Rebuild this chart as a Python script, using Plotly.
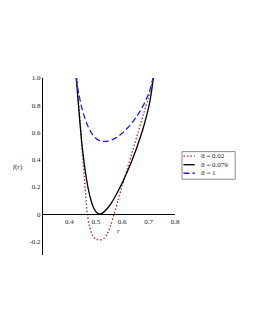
import plotly.graph_objects as go

# Data
r_black = [0.426, 0.433, 0.44, 0.447, 0.455, 0.463, 0.472, 0.482, 0.492, 0.503, 0.515, 0.53, 0.545, 0.56, 0.575, 0.59, 0.605, 0.62, 0.635, 0.65, 0.665, 0.68, 0.692, 0.703, 0.711, 0.718]
f_black = [1.0, 0.83, 0.67, 0.52, 0.39, 0.28, 0.18, 0.10, 0.045, 0.012, 0.0, 0.015, 0.045, 0.085, 0.135, 0.19, 0.25, 0.315, 0.385, 0.46, 0.545, 0.635, 0.72, 0.81, 0.9, 1.0]

r_red = [0.428, 0.435, 0.442, 0.449, 0.456, 0.462, 0.468, 0.476, 0.486, 0.5, 0.515, 0.53, 0.543, 0.556, 0.569, 0.585, 0.60, 0.62, 0.64, 0.66, 0.68, 0.70, 0.717]
f_red = [1.0, 0.82, 0.64, 0.46, 0.28, 0.13, 0.0, -0.09, -0.15, -0.183, -0.19, -0.18, -0.145, -0.085, 0.0, 0.105, 0.21, 0.34, 0.47, 0.6, 0.73, 0.86, 1.0]

r_blue = [0.426, 0.431, 0.437, 0.447, 0.457, 0.467, 0.478, 0.49, 0.503, 0.518, 0.533, 0.548, 0.563, 0.578, 0.593, 0.608, 0.623, 0.638, 0.653, 0.668, 0.683, 0.697, 0.708, 0.717]
f_blue = [1.0, 0.93, 0.87, 0.78, 0.715, 0.66, 0.615, 0.578, 0.553, 0.538, 0.534, 0.537, 0.547, 0.562, 0.583, 0.608, 0.638, 0.672, 0.712, 0.757, 0.81, 0.87, 0.93, 1.0]

series_names = ["ᾱ = 0.02", "ᾱ = 0.079", "ᾱ = 1"]
series_colors = ["#b3262e", "#000000", "#1f1fff"]
series_dash = ["1.5px,2px", "solid", "6px,3px"]

x_ticks = [0.4, 0.5, 0.6, 0.7, 0.8]
x_ticktext = ["0.4", "0.5", "0.6", "0.7", "0.8"]
y_ticks = [-0.2, 0, 0.2, 0.4, 0.6, 0.8, 1.0]
y_ticktext = ["-0.2", "0", "0.2", "0.4", "0.6", "0.8", "1.0"]

FONT = "Liberation Serif"
TXT = "#222222"

fig = go.Figure()
for rr, ff, name, col, dsh in zip([r_red, r_black, r_blue], [f_red, f_black, f_blue],
                                  series_names, series_colors, series_dash):
    fig.add_trace(go.Scatter(x=rr, y=ff, mode="lines", name=name, showlegend=False,
                             line=dict(color=col, width=1.3, dash=dsh,
                                       shape="spline", smoothing=0.8)))

ymin, ymax = -0.3, 1.0

# compact legend (paper coordinates, beside the plot area)
leg_x0, leg_x1 = 1.053, 1.456
leg_y0, leg_y1 = 0.428, 0.584
row_y = [0.559, 0.51, 0.462]
shapes = [dict(type="rect", xref="paper", yref="paper", x0=leg_x0, x1=leg_x1,
               y0=leg_y0, y1=leg_y1, line=dict(color="#8a8a8a", width=1),
               fillcolor="white", layer="below")]
annotations = []
for yy, name, col, dsh in zip(row_y, series_names, series_colors, series_dash):
    shapes.append(dict(type="line", xref="paper", yref="paper", x0=1.064, x1=1.15,
                       y0=yy, y1=yy, line=dict(color=col, width=1.3, dash=dsh)))
    annotations.append(dict(text=name, xref="paper", yref="paper", x=1.18, y=yy,
                            xanchor="left", yanchor="middle", showarrow=False,
                            font=dict(family=FONT, size=7, color=TXT)))

annotations.append(dict(text="<i>r</i>", x=0.585, y=-0.125, xref="x", yref="y",
                        showarrow=False, font=dict(family=FONT, size=7, color=TXT)))
annotations.append(dict(text="<i>f</i>(<i>r</i>)", x=0, xref="paper", y=0.35, yref="y",
                        xshift=-18, xanchor="right", showarrow=False,
                        font=dict(family=FONT, size=7, color=TXT)))

# the page body adds an 8px offset, so margins are reduced accordingly
fig.update_layout(
    template="none",
    width=255, height=330,
    margin=dict(l=35, r=88, t=70, b=83, autoexpand=False),
    paper_bgcolor="white", plot_bgcolor="white",
    font=dict(family=FONT, size=7, color=TXT),
    showlegend=False,
    xaxis=dict(range=[0.3, 0.8], tickvals=x_ticks, ticktext=x_ticktext,
               showgrid=False, zeroline=False, showline=True, linecolor="black",
               linewidth=1, ticks="", anchor="free",
               position=(0 - ymin) / (ymax - ymin),
               tickfont=dict(family=FONT, size=7, color=TXT)),
    yaxis=dict(range=[ymin, ymax], tickvals=y_ticks, ticktext=y_ticktext,
               showgrid=False, zeroline=False, showline=True, linecolor="black",
               linewidth=1, ticks="",
               tickfont=dict(family=FONT, size=7, color=TXT)),
    shapes=shapes,
    annotations=annotations,
)

fig.write_html("out.html")
